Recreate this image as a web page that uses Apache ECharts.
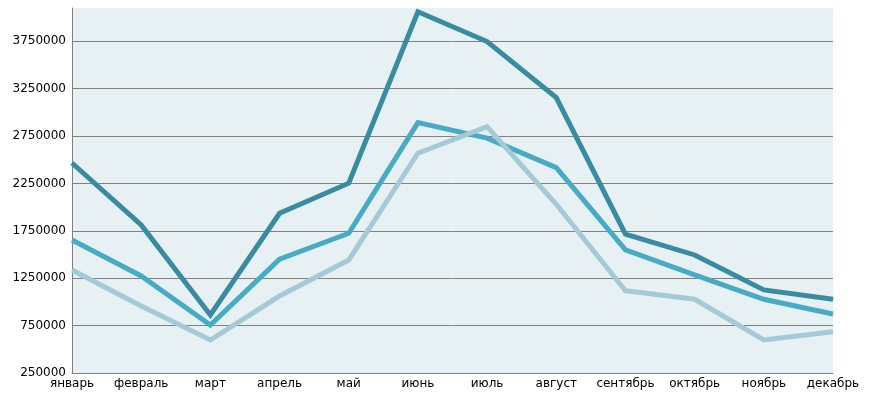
<!DOCTYPE html>
<html>
<head>
<meta charset="utf-8">
<script src="https://cdn.jsdelivr.net/npm/echarts@6/dist/echarts.min.js"></script>
<style>
html, body { margin: 0; padding: 0; background: #fff; }
#chart { width: 877px; height: 398px; }
</style>
</head>
<body>
<div id="chart"></div>
<script>
// месяцы
var months = ['январь', 'февраль', 'март', 'апрель', 'май', 'июнь', 'июль', 'август', 'сентябрь', 'октябрь', 'ноябрь', 'декабрь'];

// значения по сериям
var seriesDark = [2465000, 1812000, 862000, 1935000, 2252000, 4060000, 3746000, 3155000, 1714000, 1495000, 1126000, 1028000];
var seriesMid = [1653000, 1274000, 756000, 1450000, 1724000, 2891000, 2727000, 2416000, 1548000, 1284000, 1028000, 873000];
var seriesLight = [1337000, 957000, 598000, 1062000, 1442000, 2568000, 2849000, 2030000, 1118000, 1028000, 598000, 686000];

// шкала
var yMin = 250000;
var yMax = 4100000;
var yStep = 500000;

var colors = ['#388ba0', '#48abc5', '#a5cad7'];

function lineSeries(name, data, color) {
	return {
		name: name,
		type: 'line',
		data: data,
		symbol: 'none',
		animation: false,
		lineStyle: { color: color, width: 5, join: 'miter' }
	};
}

var chart = echarts.init(document.getElementById('chart'));
chart.setOption({
	animation: false,
	grid: {
		left: 72, right: 44, top: 8, bottom: 25,
		show: true, backgroundColor: '#e7f0f3', borderWidth: 0
	},
	xAxis: {
		type: 'category',
		data: months,
		boundaryGap: false,
		axisLine: { lineStyle: { color: '#808080', width: 1 } },
		axisTick: { show: false },
		axisLabel: { color: '#000', fontFamily: 'DejaVu Sans', fontSize: 12, margin: 5, interval: 0 }
	},
	yAxis: {
		type: 'value',
		min: yMin,
		max: yMax,
		interval: yStep,
		axisLine: { show: true, lineStyle: { color: '#808080', width: 1 } },
		axisTick: { show: false },
		axisLabel: {
			color: '#000', fontFamily: 'DejaVu Sans', fontSize: 12, margin: 6, showMaxLabel: false,
			formatter: function (v) { return String(v); }
		},
		splitLine: { showMaxLine: false, lineStyle: { color: '#808080', width: 1 } }
	},
	series: [
		lineSeries('s1', seriesDark, colors[0]),
		lineSeries('s2', seriesMid, colors[1]),
		lineSeries('s3', seriesLight, colors[2])
	]
});
</script>
</body>
</html>
